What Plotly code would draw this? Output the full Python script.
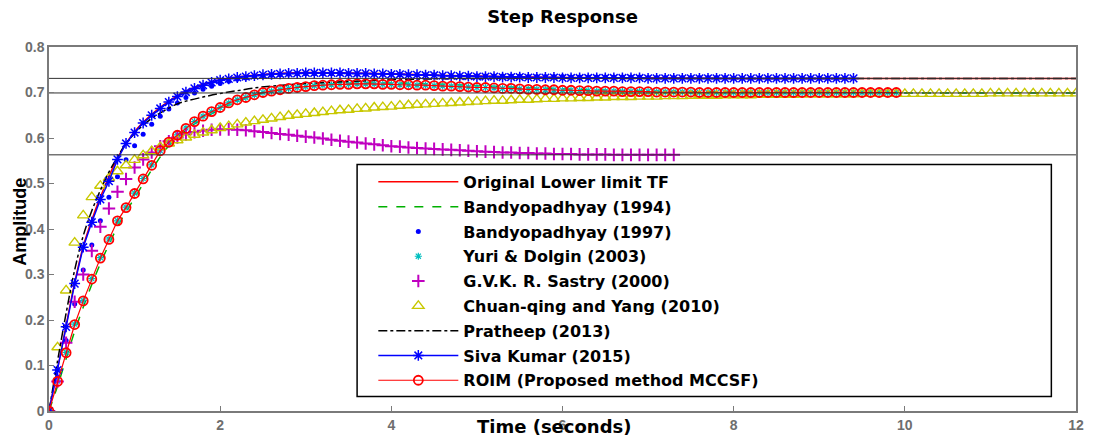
import plotly.graph_objects as go

# sample times (s)
T = [0.0, 0.1, 0.2, 0.3, 0.4, 0.5, 0.6, 0.7, 0.8, 0.9,
     1.0, 1.1, 1.2, 1.3, 1.4, 1.5, 1.6, 1.7, 1.8, 1.9,
     2.0, 2.1, 2.2, 2.3, 2.4, 2.5, 2.6, 2.7, 2.8, 2.9,
     3.0, 3.1, 3.2, 3.3, 3.4, 3.5, 3.6, 3.7, 3.8, 3.9,
     4.0, 4.1, 4.2, 4.3, 4.4, 4.5, 4.6, 4.7, 4.8, 4.9,
     5.0, 5.1, 5.2, 5.3, 5.4, 5.5, 5.6, 5.7, 5.8, 5.9,
     6.0, 6.1, 6.2, 6.3, 6.4, 6.5, 6.6, 6.7, 6.8, 6.9,
     7.0, 7.1, 7.2, 7.3, 7.4, 7.5, 7.6, 7.7, 7.8, 7.9,
     8.0, 8.1, 8.2, 8.3, 8.4, 8.5, 8.6, 8.7, 8.8, 8.9,
     9.0, 9.1, 9.2, 9.3, 9.4, 9.5, 9.6, 9.7, 9.8, 9.9,
     10.0, 10.1, 10.2, 10.3, 10.4, 10.5, 10.6, 10.7, 10.8, 10.9,
     11.0, 11.1, 11.2, 11.3, 11.4, 11.5, 11.6, 11.7, 11.8, 11.9,
     12.0]

# line-only series have their own (coarser) time vectors
T_ORIG = [0.0, 0.1, 0.2, 0.3, 0.4, 0.5, 0.6, 0.8, 1.0, 1.2, 1.4, 1.6, 1.8, 2.0,
          2.3, 2.6, 3.0, 3.5, 4.0, 5.0, 6.0, 7.0, 8.0, 10.0, 12.0]
Y_ORIG = [0.0, 0.092, 0.188, 0.282, 0.362, 0.420, 0.470, 0.556, 0.614, 0.652,
          0.681, 0.703, 0.718, 0.728, 0.736, 0.741, 0.744, 0.743, 0.741, 0.736,
          0.733, 0.732, 0.731, 0.731, 0.731]

T_B94 = [0.0, 0.1, 0.2, 0.3, 0.4, 0.5, 0.6, 0.7, 0.8, 0.9, 1.0, 1.2, 1.4, 1.6,
         1.8, 2.0, 2.2, 2.5, 3.0, 3.5, 4.0, 4.5, 5.0, 6.0, 7.0, 8.0, 9.0, 10.0, 12.0]
Y_B94 = [0.0, 0.055, 0.115, 0.175, 0.228, 0.278, 0.324, 0.366, 0.405, 0.438,
         0.468, 0.530, 0.583, 0.617, 0.643, 0.663, 0.680, 0.699, 0.714, 0.720,
         0.721, 0.719, 0.715, 0.708, 0.703, 0.701, 0.700, 0.699, 0.699]

T_PRA = [0.0, 0.1, 0.2, 0.3, 0.4, 0.5, 0.6, 0.7, 0.8, 0.9, 1.0, 1.1, 1.2, 1.3,
         1.4, 1.5, 1.6, 1.8, 2.0, 2.2, 2.4, 2.6, 2.8, 3.0, 3.5, 4.0, 4.5, 5.0,
         6.0, 8.0, 10.0, 12.0]
Y_PRA = [0.0, 0.110, 0.215, 0.310, 0.385, 0.440, 0.485, 0.525, 0.558, 0.588,
         0.610, 0.628, 0.643, 0.655, 0.666, 0.675, 0.681, 0.690, 0.698, 0.704,
         0.710, 0.714, 0.717, 0.720, 0.724, 0.728, 0.730, 0.731, 0.731, 0.731,
         0.731, 0.731]

# marker series on the 0.1 s grid
Y_B97 = [0.0, 0.075, 0.155, 0.235, 0.310, 0.365, 0.418, 0.470, 0.515, 0.552,
         0.583, 0.608, 0.630, 0.648, 0.664, 0.677, 0.689, 0.699, 0.707, 0.714,
         0.720, 0.725, 0.729, 0.732, 0.735, 0.737, 0.738, 0.739, 0.740, 0.741,
         0.741, 0.741, 0.741, 0.741, 0.741, 0.741, 0.740, 0.740, 0.740, 0.740,
         0.740, 0.739, 0.739, 0.739, 0.739, 0.739, 0.737, 0.737, 0.737, 0.737,
         0.737, 0.736, 0.736, 0.736, 0.736, 0.736, 0.735, 0.735, 0.735, 0.735,
         0.735, 0.734, 0.734, 0.734, 0.734, 0.734, 0.734, 0.734, 0.734, 0.734,
         0.733, 0.733, 0.733, 0.733, 0.733, 0.733, 0.733, 0.733, 0.733, 0.733,
         0.732, 0.732, 0.732, 0.732, 0.732, 0.732, 0.732, 0.732, 0.732, 0.732,
         0.732, 0.732, 0.732, 0.732]

Y_ROIM = [0.0, 0.065, 0.128, 0.190, 0.242, 0.290, 0.336, 0.377, 0.418, 0.447,
          0.478, 0.510, 0.540, 0.572, 0.591, 0.606, 0.621, 0.636, 0.648, 0.658,
          0.667, 0.677, 0.684, 0.689, 0.695, 0.700, 0.703, 0.706, 0.709, 0.711,
          0.713, 0.715, 0.716, 0.717, 0.718, 0.718, 0.719, 0.719, 0.719, 0.718,
          0.718, 0.717, 0.717, 0.716, 0.716, 0.715, 0.714, 0.714, 0.713, 0.712,
          0.711, 0.711, 0.710, 0.709, 0.709, 0.708, 0.707, 0.707, 0.706, 0.706,
          0.705, 0.705, 0.704, 0.704, 0.703, 0.703, 0.703, 0.702, 0.702, 0.702,
          0.702, 0.701, 0.701, 0.701, 0.701, 0.701, 0.700, 0.700, 0.700, 0.700,
          0.700, 0.700, 0.700, 0.700, 0.700, 0.700, 0.700, 0.700, 0.700, 0.700,
          0.700, 0.700, 0.700, 0.700, 0.700, 0.700, 0.700, 0.700, 0.700, 0.700]

Y_YURI = [0.0, 0.066, 0.129, 0.191, 0.243, 0.291, 0.337, 0.378, 0.418, 0.448,
          0.479, 0.511, 0.541, 0.572, 0.591, 0.607, 0.622, 0.636, 0.648, 0.658,
          0.667, 0.677, 0.684, 0.689, 0.695, 0.700, 0.703, 0.706, 0.709, 0.711,
          0.713, 0.715, 0.716, 0.717, 0.718, 0.718, 0.719, 0.719, 0.719, 0.718,
          0.718, 0.717, 0.717, 0.716, 0.716, 0.715, 0.714, 0.714, 0.713, 0.712,
          0.711, 0.711, 0.710, 0.709, 0.709, 0.708, 0.707, 0.707, 0.706, 0.706,
          0.705, 0.705, 0.704, 0.704, 0.703, 0.703, 0.703, 0.702, 0.702, 0.702,
          0.702, 0.701, 0.701, 0.701, 0.701, 0.701, 0.700, 0.700, 0.700, 0.700,
          0.700, 0.700, 0.700, 0.700, 0.700, 0.700, 0.700, 0.700, 0.700, 0.700,
          0.700, 0.700, 0.700, 0.700, 0.700, 0.700, 0.700, 0.700, 0.700, 0.700]

Y_SASTRY = [0.0, 0.065, 0.150, 0.240, 0.300, 0.352, 0.405, 0.445, 0.482, 0.510,
            0.535, 0.553, 0.568, 0.582, 0.593, 0.601, 0.608, 0.613, 0.616, 0.618,
            0.619, 0.619, 0.618, 0.617, 0.615, 0.613, 0.611, 0.609, 0.607, 0.605,
            0.603, 0.601, 0.599, 0.596, 0.594, 0.592, 0.590, 0.588, 0.586, 0.584,
            0.582, 0.581, 0.579, 0.578, 0.577, 0.576, 0.575, 0.574, 0.573, 0.572,
            0.571, 0.570, 0.569, 0.568, 0.568, 0.567, 0.567, 0.566, 0.566, 0.565,
            0.565, 0.565, 0.564, 0.564, 0.564, 0.564, 0.563, 0.563, 0.563, 0.563,
            0.563, 0.563, 0.563, 0.563]

Y_CHUAN = [0.0, 0.140, 0.265, 0.370, 0.430, 0.470, 0.495, 0.512, 0.527, 0.540,
           0.552, 0.562, 0.571, 0.580, 0.588, 0.595, 0.601, 0.607, 0.612, 0.617,
           0.622, 0.626, 0.630, 0.634, 0.637, 0.640, 0.643, 0.646, 0.649, 0.651,
           0.653, 0.655, 0.657, 0.659, 0.661, 0.662, 0.664, 0.665, 0.667, 0.668,
           0.669, 0.671, 0.672, 0.673, 0.674, 0.675, 0.676, 0.677, 0.678, 0.679,
           0.680, 0.681, 0.682, 0.682, 0.683, 0.684, 0.684, 0.685, 0.686, 0.686,
           0.687, 0.687, 0.688, 0.688, 0.689, 0.689, 0.690, 0.690, 0.690, 0.691,
           0.691, 0.691, 0.692, 0.692, 0.692, 0.693, 0.693, 0.693, 0.693, 0.694,
           0.694, 0.694, 0.694, 0.695, 0.695, 0.695, 0.695, 0.695, 0.696, 0.696,
           0.696, 0.696, 0.696, 0.696, 0.696, 0.697, 0.697, 0.697, 0.697, 0.697,
           0.697, 0.697, 0.697, 0.697, 0.697, 0.697, 0.697, 0.697, 0.697, 0.697,
           0.698, 0.698, 0.698, 0.698, 0.698, 0.698, 0.698, 0.698, 0.698, 0.698,
           0.698]

Y_SIVA = [0.0, 0.090, 0.185, 0.280, 0.360, 0.415, 0.465, 0.505, 0.553, 0.588,
          0.612, 0.633, 0.650, 0.665, 0.679, 0.691, 0.701, 0.709, 0.716, 0.722,
          0.727, 0.730, 0.733, 0.735, 0.737, 0.739, 0.740, 0.741, 0.742, 0.742,
          0.743, 0.743, 0.743, 0.743, 0.743, 0.742, 0.742, 0.742, 0.741, 0.741,
          0.740, 0.740, 0.739, 0.739, 0.738, 0.738, 0.737, 0.737, 0.736, 0.736,
          0.735, 0.735, 0.735, 0.734, 0.734, 0.734, 0.733, 0.733, 0.733, 0.733,
          0.732, 0.732, 0.732, 0.732, 0.732, 0.732, 0.732, 0.732, 0.732, 0.732,
          0.731, 0.731, 0.731, 0.731, 0.731, 0.731, 0.731, 0.731, 0.731, 0.731,
          0.731, 0.731, 0.731, 0.731, 0.731, 0.731, 0.731, 0.731, 0.731, 0.731,
          0.731, 0.731, 0.731, 0.731, 0.731]

REF_LEVELS = [0.731, 0.699, 0.563]
X_RANGE = [0, 12]
Y_RANGE = [0, 0.8]
X_TICKS = [0, 2, 4, 6, 8, 10, 12]
Y_TICKS = [0, 0.1, 0.2, 0.3, 0.4, 0.5, 0.6, 0.7, 0.8]
Y_TICK_TEXT = ["0", "0.1", "0.2", "0.3", "0.4", "0.5", "0.6", "0.7", "0.8"]

FONT = "Liberation Sans"
WIDE = "DejaVu Sans"

fig = go.Figure()

fig.add_trace(go.Scatter(x=T_ORIG, y=Y_ORIG, mode="lines", name="Original Lower limit TF",
                         line=dict(color="#ff0000", width=1.5, shape="spline"),
                         legendgroup="a"))
fig.add_trace(go.Scatter(x=T_B94, y=Y_B94, mode="lines", name="Bandyopadhyay (1994)",
                         line=dict(color="#00b000", width=1.5, dash="dash", shape="spline"),
                         legendgroup="b"))
fig.add_trace(go.Scatter(x=T[:len(Y_B97)], y=Y_B97, mode="markers", name="Bandyopadhyay (1997)",
                         marker=dict(color="#0000ff", size=5, symbol="circle"),
                         legendgroup="c"))
fig.add_trace(go.Scatter(x=T[:len(Y_YURI)], y=Y_YURI, mode="markers", name="Yuri & Dolgin (2003)",
                         marker=dict(color="#00bfbf", size=6, symbol="asterisk-open",
                                     line=dict(color="#00bfbf", width=1.2)),
                         legendgroup="d"))
fig.add_trace(go.Scatter(x=T[:len(Y_SASTRY)], y=Y_SASTRY, mode="markers", name="G.V.K. R. Sastry (2000)",
                         marker=dict(color="#c000c0", size=9, symbol="cross-thin-open",
                                     line=dict(color="#c000c0", width=2)),
                         legendgroup="e"))
fig.add_trace(go.Scatter(x=T[:len(Y_CHUAN)], y=Y_CHUAN, mode="markers", name="Chuan-qing and Yang (2010)",
                         marker=dict(color="#c8c800", size=10, symbol="triangle-up-open",
                                     line=dict(color="#c8c800", width=1.4)),
                         legendgroup="f"))
fig.add_trace(go.Scatter(x=T_PRA, y=Y_PRA, mode="lines", name="Pratheep (2013)",
                         line=dict(color="#000000", width=1.5, dash="dashdot", shape="spline"),
                         legendgroup="g"))
fig.add_trace(go.Scatter(x=T[:len(Y_SIVA)], y=Y_SIVA, mode="lines+markers", name="Siva Kumar (2015)",
                         line=dict(color="#0000ff", width=1.5),
                         marker=dict(color="#0000ff", size=9, symbol="asterisk-open",
                                     line=dict(color="#0000ff", width=1.5)),
                         legendgroup="h"))
fig.add_trace(go.Scatter(x=T[:len(Y_ROIM)], y=Y_ROIM, mode="lines+markers",
                         name="ROIM (Proposed method MCCSF)",
                         line=dict(color="#ff0000", width=1.2),
                         marker=dict(color="#ff0000", size=9, symbol="circle-open",
                                     line=dict(color="#ff0000", width=1.8)),
                         legendgroup="i"))

# thin steady-state reference lines across the full axis (drawn on top)
for lvl in REF_LEVELS:
    fig.add_trace(go.Scatter(x=X_RANGE, y=[lvl, lvl], mode="lines",
                             line=dict(color="#303030", width=1),
                             showlegend=False, hoverinfo="skip"))

# white legend box
fig.add_shape(type="rect", xref="paper", yref="paper",
              x0=0.300, x1=0.976, y0=0.040, y1=0.677,
              fillcolor="white", line=dict(color="black", width=1.5), layer="above")

axis_common = dict(showline=True, linecolor="#7a7a7a", linewidth=1.5, mirror=True,
                   ticks="inside", ticklen=5, tickcolor="#7a7a7a", showgrid=False,
                   zeroline=False,
                   tickfont=dict(family=FONT, size=14, color="#6e6e6e", weight="bold"))

fig.update_xaxes(range=X_RANGE, tickvals=X_TICKS, **axis_common)
fig.update_yaxes(range=Y_RANGE, tickvals=Y_TICKS, ticktext=Y_TICK_TEXT, **axis_common)

fig.update_layout(
    width=1096, height=445,
    margin=dict(l=49, r=18, t=47, b=27),
    paper_bgcolor="white", plot_bgcolor="white",
    title=dict(text="Step Response", x=0.5, xref="paper", y=0.962, yanchor="middle",
               font=dict(family=WIDE, size=18, color="black", weight="bold")),
    showlegend=True,
    legend=dict(x=0.3158, y=0.676, xanchor="left", yanchor="top",
                bgcolor="rgba(0,0,0,0)", borderwidth=0,
                itemwidth=80, tracegroupgap=1, traceorder="grouped",
                font=dict(family=WIDE, size=16, color="black", weight="bold")),
    annotations=[
        dict(text="Time (seconds)", xref="paper", yref="paper", x=0.492, y=0,
             xanchor="center", yanchor="top", yshift=-3, showarrow=False,
             font=dict(family=WIDE, size=18, color="black", weight="bold")),
        dict(text="Amplitude", xref="paper", yref="paper", x=0, y=0.52,
             xanchor="center", yanchor="middle", xshift=-29, textangle=-90, showarrow=False,
             font=dict(family=FONT, size=18, color="black", weight="bold")),
    ],
)

fig.write_html("out.html")
